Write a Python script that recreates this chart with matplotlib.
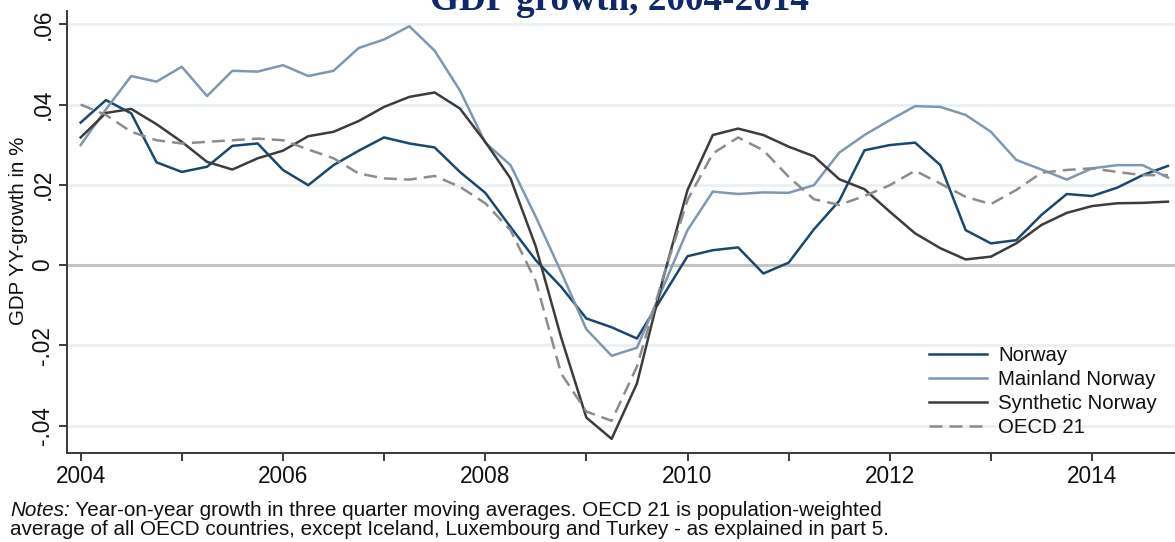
import matplotlib
matplotlib.use("Agg")
import matplotlib.pyplot as plt
import numpy as np

# quarterly x values 2004Q1 .. 2014Q4
quarters = [2004 + 0.25 * i for i in range(44)]

norway = [0.0355, 0.0411, 0.0378, 0.0256,
          0.0232, 0.0245, 0.0297, 0.0303,
          0.0237, 0.0199, 0.0249, 0.0285,
          0.0318, 0.0303, 0.0293, 0.0232,
          0.0180, 0.0095, 0.0012, -0.0054,
          -0.0133, -0.0155, -0.0183, -0.0080,
          0.0022, 0.0037, 0.0044, -0.0021,
          0.0006, 0.0089, 0.0160, 0.0286,
          0.0299, 0.0305, 0.0249, 0.0087,
          0.0054, 0.0062, 0.0125, 0.0177,
          0.0172, 0.0193, 0.0224, 0.0247]

mainland = [0.0299, 0.0388, 0.0471, 0.0457,
            0.0494, 0.0421, 0.0484, 0.0482,
            0.0498, 0.0471, 0.0484, 0.0541,
            0.0562, 0.0595, 0.0534, 0.0435,
            0.0305, 0.0249, 0.0120, -0.0017,
            -0.0160, -0.0226, -0.0206, -0.0060,
            0.0087, 0.0183, 0.0177, 0.0181,
            0.0180, 0.0199, 0.0280, 0.0324,
            0.0361, 0.0396, 0.0394, 0.0374,
            0.0332, 0.0262, 0.0238, 0.0213,
            0.0241, 0.0249, 0.0249, 0.0218]

synthetic = [0.0318, 0.0379, 0.0389, 0.0351,
             0.0307, 0.0257, 0.0238, 0.0266,
             0.0285, 0.0321, 0.0332, 0.0359,
             0.0394, 0.0419, 0.0430, 0.0390,
             0.0307, 0.0216, 0.0046, -0.0180,
             -0.0380, -0.0433, -0.0295, -0.0042,
             0.0187, 0.0324, 0.0340, 0.0324,
             0.0295, 0.0271, 0.0214, 0.0189,
             0.0133, 0.0079, 0.0042, 0.0014,
             0.0021, 0.0054, 0.0100, 0.0130,
             0.0147, 0.0154, 0.0155, 0.0158]

oecd = [0.0400, 0.0374, 0.0332, 0.0311,
        0.0303, 0.0307, 0.0311, 0.0315,
        0.0311, 0.0288, 0.0266, 0.0228,
        0.0216, 0.0213, 0.0222, 0.0195,
        0.0154, 0.0087, -0.0040, -0.0270,
        -0.0365, -0.0388, -0.0253, -0.0038,
        0.0162, 0.0278, 0.0318, 0.0286,
        0.0220, 0.0164, 0.0150, 0.0172,
        0.0199, 0.0235, 0.0203, 0.0170,
        0.0152, 0.0187, 0.0230, 0.0237,
        0.0241, 0.0232, 0.0224, 0.0224]

series_names = ["Norway", "Mainland Norway", "Synthetic Norway", "OECD 21"]
y_ticks = [-0.04, -0.02, 0, 0.02, 0.04, 0.06]
y_ticklabels = ["-.04", "-.02", "0", ".02", ".04", ".06"]
x_ticks = [2004, 2006, 2008, 2010, 2012, 2014]
x_ticklabels = ["2004", "2006", "2008", "2010", "2012", "2014"]
x_minor = [2005, 2007, 2009, 2011, 2013]

title = "GDP growth, 2004-2014"
ylabel = "GDP YY-growth in %"
note_italic = "Notes:"
note_line1 = " Year-on-year growth in three quarter moving averages. OECD 21 is population-weighted"
note_line2 = "average of all OECD countries, except Iceland, Luxembourg and Turkey - as explained in part 5."

plt.rcParams['font.family'] = ['Liberation Sans', 'DejaVu Sans']

W, H = 1175, 542
fig = plt.figure(figsize=(W / 100, H / 100), dpi=100)
ax_left, ax_right = 66.7 / W, 1.0
ax_bottom, ax_top = 1 - 452.7 / H, 1 - 11 / H
ax = fig.add_axes([ax_left, ax_bottom, ax_right - ax_left, ax_top - ax_bottom])

# grid lines and zero line
for yt in y_ticks:
    if yt == 0:
        ax.axhline(0, color="#c4c4c4", lw=2.2, zorder=1)
    else:
        ax.axhline(yt, color="#e9f1f4", lw=2.0, zorder=0)

lw = 1.8
ax.plot(quarters, norway, color="#1a476f", lw=lw, label=series_names[0], zorder=3)
ax.plot(quarters, mainland, color="#8097b0", lw=lw, label=series_names[1], zorder=3)
ax.plot(quarters, synthetic, color="#3c3c3c", lw=lw, label=series_names[2], zorder=3)
ax.plot(quarters, oecd, color="#8c8c8c", lw=lw, linestyle=(0, (5.2, 2.8)),
        label=series_names[3], zorder=3)

ax.set_xlim(2003.862, 2014.82)
ax.set_ylim(-0.04675, 0.0633)

ax.set_yticks(y_ticks)
ax.set_yticklabels(y_ticklabels, rotation=90, va="center")
ax.set_xticks(x_ticks)
ax.set_xticklabels(x_ticklabels)
ax.set_xticks(x_minor, minor=True)

spine_col = "#3a3a3a"
for s in ["top", "right"]:
    ax.spines[s].set_visible(False)
for s in ["left", "bottom"]:
    ax.spines[s].set_color(spine_col)
    ax.spines[s].set_linewidth(1.4)

ax.tick_params(axis="both", which="both", length=5.8, width=1.4, color=spine_col,
               labelsize=16.3, labelcolor="#111111")
ax.tick_params(axis="y", pad=3)
ax.tick_params(axis="x", pad=3.3)

ax.set_ylabel(ylabel, fontsize=14.8, color="#111111")
ax.yaxis.set_label_coords(-(66.7 - 28) / (W * (ax_right - ax_left)),
                          (452.7 - 231) / (452.7 - 11))

# title (partially cut off at top as in the reference)
fig.text(619 / W, 1 - 10 / H, title, ha="center", va="baseline",
         fontsize=26.8, fontweight="bold", family="Liberation Serif", color="#10286a")

leg = ax.legend(loc="upper left", bbox_to_anchor=(929 / W, 1 - 346 / H),
                bbox_transform=fig.transFigure, frameon=False, fontsize=14.7,
                handlelength=2.84, handletextpad=0.54, labelspacing=0.25,
                borderpad=0, borderaxespad=0)
for t in leg.get_texts():
    t.set_color("#111111")

fs_note = 14.9
t1 = fig.text(10 / W, 1 - 516 / H, note_italic, style="italic", fontsize=fs_note,
              va="baseline", color="#111111")
fig.canvas.draw()
ax.annotate(note_line1, xy=(1, 0), xycoords=t1, ha="left", va="bottom",
            fontsize=fs_note, color="#111111", annotation_clip=False)
fig.text(10 / W, 1 - 535 / H, note_line2, fontsize=fs_note, va="baseline", color="#111111")

fig.savefig("out.png", dpi=100)
